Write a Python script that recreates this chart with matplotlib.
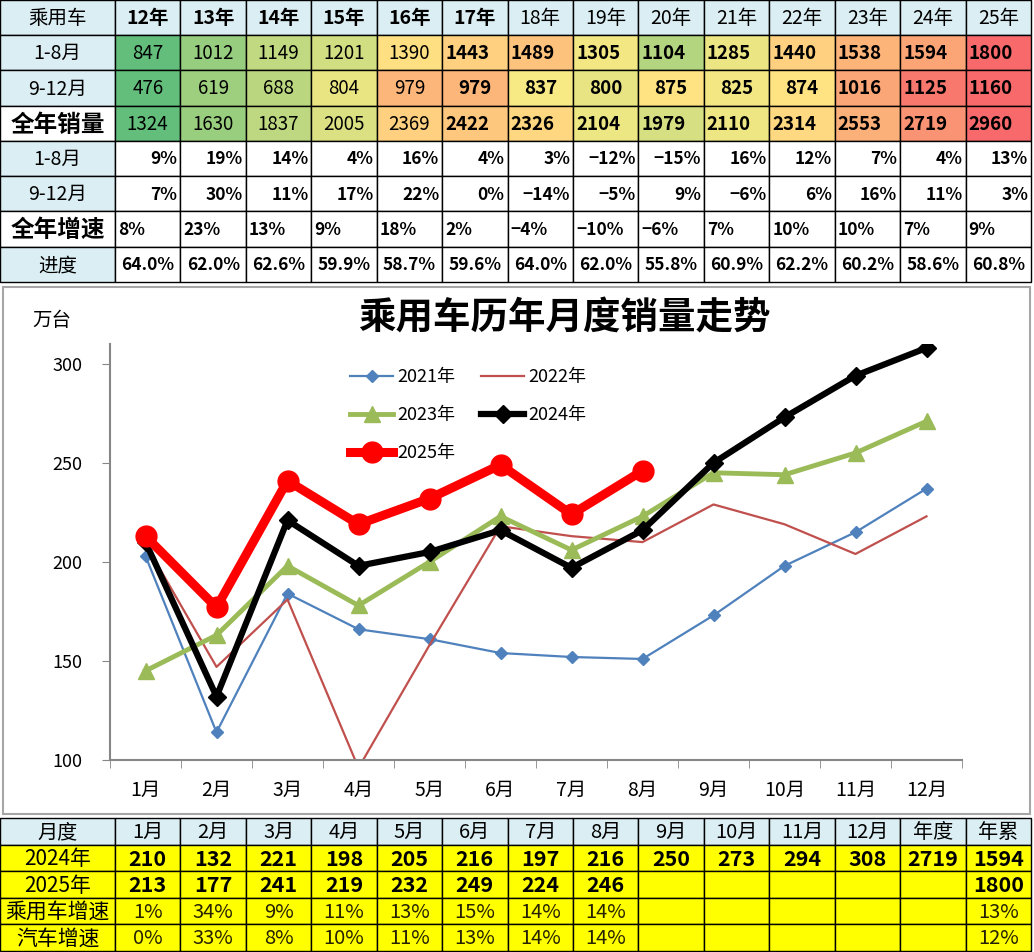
import matplotlib
matplotlib.use("Agg")
import matplotlib.pyplot as plt
from matplotlib.patches import Rectangle
import numpy as np

plt.rcParams['font.family'] = ['Noto Sans CJK SC', 'DejaVu Sans']

# ---------------- top table data ----------------
years = ["12年", "13年", "14年", "15年", "16年", "17年", "18年",
         "19年", "20年", "21年", "22年", "23年", "24年", "25年"]
jan_aug = [847, 1012, 1149, 1201, 1390, 1443, 1489, 1305, 1104, 1285, 1440, 1538, 1594, 1800]
sep_dec = [476, 619, 688, 804, 979, 979, 837, 800, 875, 825, 874, 1016, 1125, 1160]
full_year = [1324, 1630, 1837, 2005, 2369, 2422, 2326, 2104, 1979, 2110, 2314, 2553, 2719, 2960]
g_jan_aug = ["9%", "19%", "14%", "4%", "16%", "4%", "3%", "−12%", "−15%", "16%", "12%", "7%", "4%", "13%"]
g_sep_dec = ["7%", "30%", "11%", "17%", "22%", "0%", "−14%", "−5%", "9%", "−6%", "6%", "16%", "11%", "3%"]
g_full = ["8%", "23%", "13%", "9%", "18%", "2%", "−4%", "−10%", "−6%", "7%", "10%", "10%", "7%", "9%"]
progress = ["64.0%", "62.0%", "62.6%", "59.9%", "58.7%", "59.6%", "64.0%",
            "62.0%", "55.8%", "60.9%", "62.2%", "60.2%", "58.6%", "60.8%"]

# ---------------- monthly series ----------------
months = ["1月", "2月", "3月", "4月", "5月", "6月", "7月", "8月", "9月", "10月", "11月", "12月"]
s2021 = [203, 114, 184, 166, 161, 154, 152, 151, 173, 198, 215, 237]
s2022 = [209, 147, 181, 96, 158, 218, 213, 210, 229, 219, 204, 223]
s2023 = [145, 163, 198, 178, 200, 223, 206, 223, 245, 244, 255, 271]
s2024 = [210, 132, 221, 198, 205, 216, 197, 216, 250, 273, 294, 308]
s2025 = [213, 177, 241, 219, 232, 249, 224, 246]

# ---------------- bottom table ----------------
bt_header = ["月度"] + months + ["年度", "年累"]
bt_2024 = ["210", "132", "221", "198", "205", "216", "197", "216", "250", "273", "294", "308", "2719", "1594"]
bt_2025 = ["213", "177", "241", "219", "232", "249", "224", "246", "", "", "", "", "", "1800"]
pc_growth = ["1%", "34%", "9%", "11%", "13%", "15%", "14%", "14%", "", "", "", "", "", "13%"]
auto_growth = ["0%", "33%", "8%", "10%", "11%", "13%", "14%", "14%", "", "", "", "", "", "12%"]

W, H = 1034, 952
fig = plt.figure(figsize=(W / 100, H / 100), dpi=100)
tab = fig.add_axes([0, 0, 1, 1])
tab.set_xlim(0, W)
tab.set_ylim(H, 0)
tab.axis("off")

BLUE = "#DAEEF3"
col_x = list(np.linspace(115, 1031, 15))
top_rows = [0, 35, 70, 106, 141, 176, 211, 247, 282]


def scale_color(vals):
    # excel style green-yellow-red scale, midpoint at the median
    lo, hi, mid = min(vals), max(vals), np.median(vals)
    g, y, r = np.array([99, 190, 123]), np.array([255, 235, 132]), np.array([248, 105, 107])
    out = []
    for v in vals:
        if v <= mid:
            c = g + (y - g) * (v - lo) / (mid - lo)
        else:
            c = y + (r - y) * (v - mid) / (hi - mid)
        out.append(c / 255)
    return out


def cell(x0, x1, y0, y1, fc="white"):
    tab.add_patch(Rectangle((x0, y0), x1 - x0, y1 - y0, facecolor=fc,
                            edgecolor="black", lw=1))


def put(x0, x1, y0, y1, s, ha="center", size=13, weight="normal", color="black", family=None):
    if ha == "center":
        x = (x0 + x1) / 2
    elif ha == "left":
        x = x0 + 3
    else:
        x = x1 - 3
    kw = {}
    if family:
        kw["family"] = family
    tab.text(x, (y0 + y1) / 2 + 1, s, ha=ha, va="center", fontsize=size,
             fontweight=weight, color=color, **kw)


# top table: first column
labels = [("乘用车", 14, "normal", BLUE), ("1-8月", 14, "normal", BLUE),
          ("9-12月", 14, "normal", BLUE), ("全年销量", 17, "bold", "white"),
          ("1-8月", 14, "normal", BLUE), ("9-12月", 14, "normal", BLUE),
          ("全年增速", 17, "bold", "white"), ("进度", 14, "normal", BLUE)]
for r, (s, sz, wt, fc) in enumerate(labels):
    y0, y1 = top_rows[r], top_rows[r + 1]
    cell(0, 115, y0, y1, fc)
    put(0, 115, y0, y1, s, size=sz, weight=wt)

heat_rows = [jan_aug, sep_dec, full_year]
for c in range(14):
    x0, x1 = col_x[c], col_x[c + 1]
    cell(x0, x1, 0, 35, BLUE)
    put(x0, x1, 0, 35, years[c], size=14, weight="bold" if c < 6 else "normal")
for r, vals in enumerate(heat_rows):
    cols = scale_color(vals)
    y0, y1 = top_rows[r + 1], top_rows[r + 2]
    for c, v in enumerate(vals):
        x0, x1 = col_x[c], col_x[c + 1]
        cell(x0, x1, y0, y1, cols[c])
        bold = c >= 5
        ha = "left" if (bold and v >= 1000) else "center"
        put(x0, x1, y0, y1, str(v), ha=ha, size=13.5, weight="bold" if bold else "normal")

pct_rows = [(g_jan_aug, "right"), (g_sep_dec, "right"), (g_full, "left"), (progress, "center")]
for r, (vals, ha) in enumerate(pct_rows):
    y0, y1 = top_rows[r + 4], top_rows[r + 5]
    for c, s in enumerate(vals):
        x0, x1 = col_x[c], col_x[c + 1]
        cell(x0, x1, y0, y1)
        put(x0, x1, y0, y1, s, ha=ha, size=12.5, weight="bold")

# chart frame
tab.add_patch(Rectangle((3, 287), 1027, 527, facecolor="white", edgecolor="#A6A6A6", lw=1.5))
tab.text(52, 320, "万台", ha="center", va="center", fontsize=14)
tab.text(564, 318, "乘用车历年月度销量走势", ha="center", va="center",
         fontsize=27, fontweight="bold")

# bottom table
bt_rows = [818, 845, 871, 898, 924, 951]
NARROW = ["Liberation Sans Narrow", "Noto Sans CJK SC", "DejaVu Sans"]
YEL = "#FFFF00"
bt_labels = ["2024年", "2025年", "乘用车增速", "汽车增速"]
for c in range(15):
    x0 = 0 if c == 0 else col_x[c - 1]
    x1 = col_x[c]
    cell(x0, x1, 818, 845, BLUE)
    put(x0, x1, 818, 845, bt_header[c], size=14.5, family=NARROW)
body = [bt_2024, bt_2025, pc_growth, auto_growth]
for r, vals in enumerate(body):
    y0, y1 = bt_rows[r + 1], bt_rows[r + 2]
    cell(0, 115, y0, y1, YEL)
    put(0, 115, y0, y1, bt_labels[r], size=15, family=NARROW)
    for c, s in enumerate(vals):
        x0, x1 = col_x[c], col_x[c + 1]
        cell(x0, x1, y0, y1, YEL)
        if r < 2:
            put(x0, x1, y0, y1, s, size=15.5, weight="bold", family=NARROW)
        else:
            put(x0, x1, y0, y1, s, size=14.5, color="#262200", family=NARROW)

# ---------------- line chart ----------------
ax = fig.add_axes([110 / W, 1 - 760 / H, 852 / W, 416 / H])
ax.set_facecolor("none")
x = np.arange(12)
l21, = ax.plot(x, s2021, color="#4F81BD", lw=1.6, marker="D", ms=6, label="2021年")
l22, = ax.plot(x, s2022, color="#C0504D", lw=1.6, label="2022年")
l23, = ax.plot(x, s2023, color="#9BBB59", lw=3.5, marker="^", ms=12, label="2023年")
l24, = ax.plot(x, s2024, color="black", lw=4.5, marker="D", ms=9, label="2024年")
l25, = ax.plot(np.arange(len(s2025)), s2025, color="#FF0000", lw=6.5, marker="o", ms=15, label="2025年")

ax.set_xlim(-0.5, 11.5)
ax.set_ylim(100, 310)
ax.set_yticks([100, 150, 200, 250, 300])
ax.set_xticks(x)
ax.set_xticklabels(months, fontsize=14)
ax.set_xticks(np.arange(-0.5, 12, 1), minor=True)
ax.tick_params(axis="x", which="major", length=0, pad=14)
ax.tick_params(axis="x", which="minor", length=6, color="#868686", direction="out")
ax.tick_params(axis="y", length=6, color="#868686", pad=14, labelsize=13)
for sp in ["top", "right"]:
    ax.spines[sp].set_visible(False)
for sp in ["left", "bottom"]:
    ax.spines[sp].set_color("#868686")
    ax.spines[sp].set_linewidth(1.5)

ax.legend(handles=[l21, l23, l25, l22, l24], ncol=2, loc="upper left",
          bbox_to_anchor=(350 / W, 1 - 368 / H), bbox_transform=fig.transFigure,
          frameon=False, fontsize=13, borderpad=0, borderaxespad=0,
          handlelength=2.4, handletextpad=0.2, columnspacing=1.45, labelspacing=1.12)

fig.savefig("out.png", dpi=100)
